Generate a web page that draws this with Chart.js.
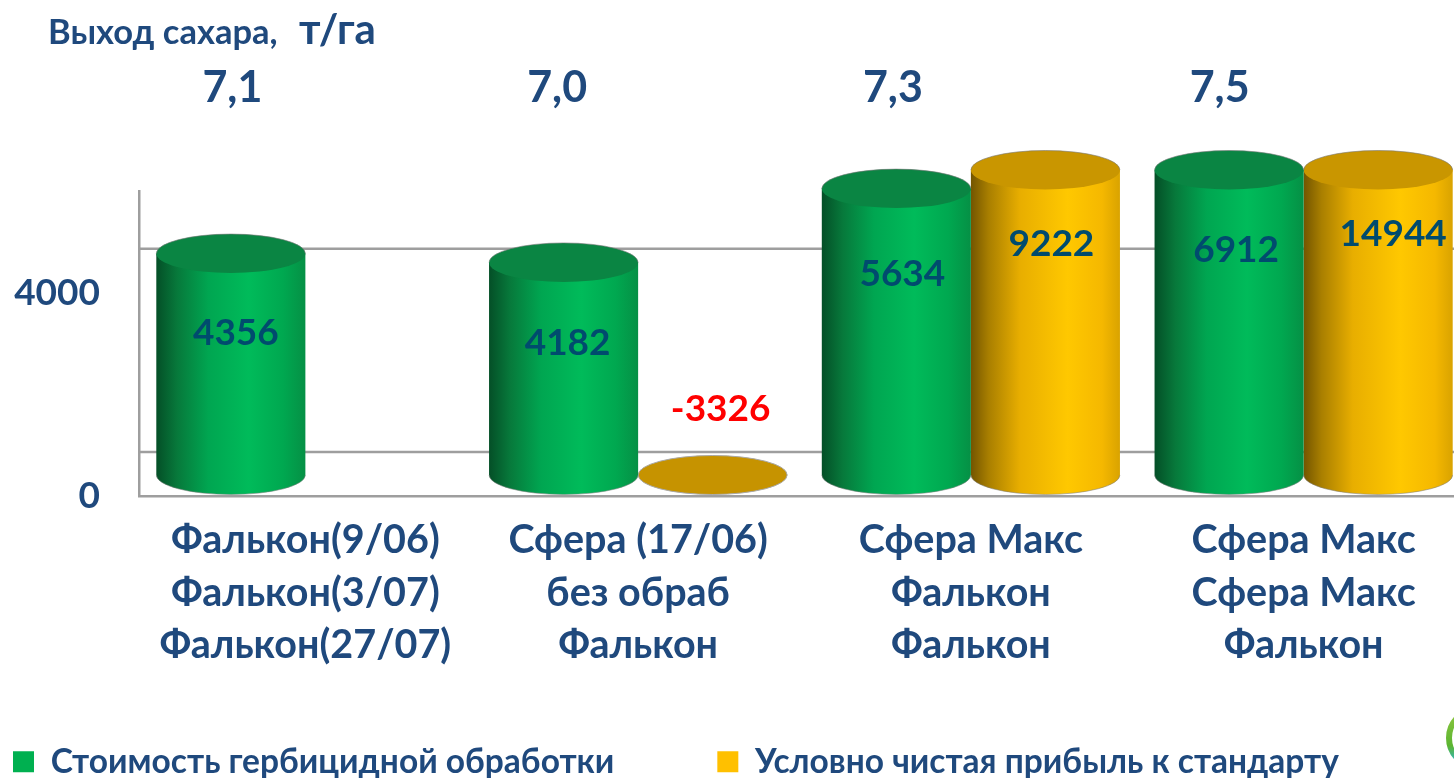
<!DOCTYPE html>
<html lang="ru"><head><meta charset="utf-8">
<style>html,body{margin:0;padding:0;background:#fff;overflow:hidden;width:1454px;height:779px}canvas{display:block}</style>
<script src="https://cdn.jsdelivr.net/npm/chart.js@4"></script>
</head><body><canvas id="c" width="1500" height="779"></canvas>
<script>
const categories = [
  ['Фалькон(9/06)','Фалькон(3/07)','Фалькон(27/07)'],
  ['Сфера (17/06)','без обраб','Фалькон'],
  ['Сфера Макс','Фалькон','Фалькон'],
  ['Сфера Макс','Сфера Макс','Фалькон']
];
const costValues = [4356, 4182, 5634, 6912];
const profitValues = [null, -3326, 9222, 14944];
const sugarYield = ['7,1', '7,0', '7,3', '7,5'];
const yTickValues = [0, 4000];
const costName = 'Стоимость гербицидной обработки';
const profitName = 'Условно чистая прибыль к стандарту';
const yieldTitle = 'Выход сахара,';
const yieldUnit = 'т/га';

// Layout and style, kept apart from the data
const FONT = 'Lato, "Noto Sans", sans-serif';
const NAVY = '#1F497D', TEAL = '#004B6E', GRID = '#9E9E9E';
const DEPTH = 21, WALL = 44;
const costLabelShift = [[5,79],[4,81],[6,85],[7,80]];
const profitLabelShift = [null,[8,-66],[6,74],[15,64]];
const yieldDx = [-73,-81,-78,-84];
const skins = {
  green: {stops:[[0,'#044f27'],[.14,'#07793b'],[.35,'#00a651'],[.62,'#00bb5a'],[.85,'#00a850'],[1,'#059045']], top:'#0a8543', flat:'#0a8543'},
  gold:  {stops:[[0,'#735500'],[.12,'#a97f00'],[.33,'#e8ae00'],[.65,'#ffc800'],[.88,'#f5b800'],[1,'#d9a300']], top:'#c99600', flat:'#c69300'}
};

class CylinderController extends Chart.BarController {
  draw() {
    const ctx = this.chart.ctx, area = this.chart.chartArea;
    const ds = this.getDataset(), skin = skins[ds.skin];
    this.getMeta().data.forEach((bar, i) => {
      if (bar.skip || ds.data[i] == null) return;
      const p = bar.getProps(['x','y','base','width'], true);
      const rx = p.width / 2, ry = 19.5;
      const cyB = p.base - DEPTH;
      const cyT = Math.min(p.base, Math.max(area.top, p.y)) - DEPTH;
      ctx.save();
      if (cyT >= cyB) {
        ctx.fillStyle = skin.flat;
        ctx.strokeStyle = '#a8a8a8'; ctx.lineWidth = 1;
        ctx.beginPath(); ctx.ellipse(p.x, cyB, rx, ry, 0, 0, Math.PI*2); ctx.fill(); ctx.stroke();
      } else {
        const g = ctx.createLinearGradient(p.x-rx,0,p.x+rx,0);
        skin.stops.forEach(s => g.addColorStop(s[0], s[1]));
        ctx.fillStyle = g;
        ctx.beginPath();
        ctx.moveTo(p.x-rx, cyT);
        ctx.lineTo(p.x-rx, cyB);
        ctx.ellipse(p.x, cyB, rx, ry, 0, Math.PI, 0, true);
        ctx.lineTo(p.x+rx, cyT);
        ctx.closePath(); ctx.fill();
        ctx.strokeStyle = 'rgba(130,130,130,.55)'; ctx.lineWidth = 1;
        ctx.beginPath(); ctx.ellipse(p.x, cyB, rx, ry, 0, Math.PI, 0, true); ctx.stroke();
        ctx.fillStyle = skin.top;
        ctx.beginPath(); ctx.ellipse(p.x, cyT, rx, ry, 0, 0, Math.PI*2); ctx.fill();
        ctx.strokeStyle = 'rgba(120,120,120,.6)';
        ctx.beginPath(); ctx.ellipse(p.x, cyT, rx, ry, 0, Math.PI, 0); ctx.stroke();
      }
      ctx.restore();
    });
  }
}
CylinderController.id = 'cylinder';
CylinderController.defaults = Chart.BarController.defaults;
CylinderController.overrides = Chart.BarController.overrides;
Chart.register(CylinderController);

const backWall = {
  id:'backWall',
  beforeDatasetsDraw(chart){
    const {ctx, chartArea:a, scales:{y}} = chart;
    ctx.save(); ctx.strokeStyle = GRID; ctx.lineWidth = 2.5;
    y.ticks.forEach(t => {
      const py = y.getPixelForValue(t.value) - WALL;
      ctx.beginPath(); ctx.moveTo(a.left, py); ctx.lineTo(a.right, py); ctx.stroke();
    });
    ctx.restore();
  }
};
const annotations = {
  id:'annotations',
  afterLayout(chart){
    const pad = chart.options.plugins.legend.labels.padding;
    chart.legend.left = 13 - pad;
    chart.legend.top = 762 - 17 - pad;
    chart.scales.x.bottom = 779;
  },
  afterDatasetsDraw(chart){
    const {ctx, chartArea:a, scales:{x}} = chart;
    ctx.save();
    ctx.textBaseline = 'middle'; ctx.textAlign = 'center';
    const shifts = [costLabelShift, profitLabelShift], vals = [costValues, profitValues];
    [0,1].forEach(d => chart.getDatasetMeta(d).data.forEach((bar,i) => {
      const v = vals[d][i]; if (v == null) return;
      const top = Math.min(bar.base, Math.max(a.top, bar.y)) - DEPTH;
      ctx.font = 'bold 37px ' + FONT;
      ctx.fillStyle = v < 0 ? '#FF0000' : TEAL;
      ctx.fillText(String(v), bar.x + shifts[d][i][0], top + shifts[d][i][1]);
    }));
    ctx.fillStyle = NAVY;
    ctx.font = 'bold 43px ' + FONT;
    sugarYield.forEach((s,i) => ctx.fillText(s, x.getPixelForValue(i) + yieldDx[i], 88));
    ctx.textAlign = 'left';
    ctx.font = 'bold 34.5px ' + FONT; ctx.fillText(yieldTitle, 48, 33);
    ctx.font = 'bold 42px ' + FONT; ctx.fillText(yieldUnit, 299, 30);
    // cropped logo ring at the page corner
    const g = ctx.createLinearGradient(0,712,0,764);
    g.addColorStop(0,'#8cc63f'); g.addColorStop(.65,'#5cb531'); g.addColorStop(1,'#29b6d8');
    ctx.strokeStyle = g; ctx.lineWidth = 6;
    ctx.beginPath(); ctx.ellipse(1474, 738, 25, 27, 0, 0, Math.PI*2); ctx.stroke();
    ctx.restore();
  }
};

new Chart(document.getElementById('c'), {
  type:'cylinder',
  data:{ labels:categories, datasets:[
    {label:costName, data:costValues, backgroundColor:'#00B050', skin:'green', clip:false, categoryPercentage:.896, barPercentage:1},
    {label:profitName, data:profitValues, backgroundColor:'#FFC000', skin:'gold', clip:false, categoryPercentage:.896, barPercentage:1}
  ]},
  options:{
    responsive:false, animation:false,
    layout:{padding:{top:191,right:30,left:0,bottom:0}},
    plugins:{
      title:{display:false}, tooltip:{enabled:false},
      legend:{position:'bottom', align:'start', labels:{
        boxWidth:21, boxHeight:21, padding:103, color:NAVY,
        font:{family:FONT, weight:'bold', size:33.5}
      }}
    },
    scales:{
      x:{
        grid:{display:false},
        border:{display:true, color:GRID, width:2.5},
        ticks:{color:NAVY, padding:10, maxRotation:0, autoSkip:false, font:{family:FONT, weight:'bold', size:39.5, lineHeight:1.33}},
        afterFit(s){ s.height = 282 - (s.chart.legend ? s.chart.legend.height || 0 : 0); }
      },
      y:{
        min:0, max:6000,
        grid:{display:false},
        border:{display:true, color:GRID, width:2.5},
        afterBuildTicks(s){ s.ticks = yTickValues.map(v => ({value:v})); },
        ticks:{color:NAVY, padding:31, callback:v => String(v), font:{family:FONT, weight:'bold', size:37}},
        afterFit(s){ s.width = 139; }
      }
    }
  },
  plugins:[backWall, annotations]
});
</script></body></html>
